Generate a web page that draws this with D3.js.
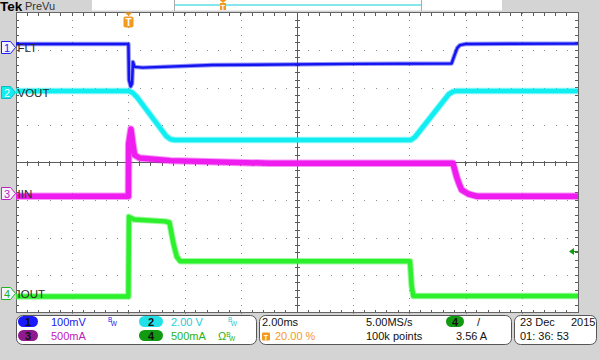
<!DOCTYPE html>
<meta charset="utf-8">
<html>
<head>
<style>
body { margin: 0; background: #d4d4d4; }
svg { display: block; font-family: "Liberation Sans", Arial, sans-serif; }
</style>
</head>
<body>
<div id="scope"></div>
<script src="https://d3js.org/d3.v7.min.js"></script>
<script>

// time in ms (trigger at 0), levels in screen divisions above the centre line
var fltTime = [-4, 0, 0.02, 0.08, 0.13, 0.16, 0.22, 0.5, 3, 8, 11.5, 11.6, 11.7, 11.8, 12.0, 16]
var fltDiv  = [3.16, 3.16, 2.2, 2.03, 2.1, 2.68, 2.55, 2.53, 2.6, 2.63, 2.64, 2.85, 3.05, 3.13, 3.16, 3.17]

var voutTime = [-4, 0, 0.15, 0.3, 1.35, 1.5, 1.65, 10.05, 10.2, 11.4, 11.55, 11.7, 16]
var voutDiv  = [1.91, 1.91, 1.86, 1.75, 0.7, 0.62, 0.6, 0.6, 0.68, 1.82, 1.89, 1.91, 1.91]

var iinTime = [-4, 0, 0.01, 0.09, 0.16, 0.22, 0.4, 1.5, 5, 11.55, 11.68, 11.77, 11.86, 12.1, 12.4, 16]
var iinDiv  = [-0.9, -0.9, 0.5, 0.89, 0.5, 0.2, 0.12, 0.05, -0.02, -0.02, -0.38, -0.57, -0.73, -0.84, -0.9, -0.9]

var ioutTime = [-4, 0, 0.02, 0.2, 1.3, 1.46, 1.6, 1.72, 1.84, 2.2, 10.02, 10.08, 10.14, 16]
var ioutDiv  = [-3.57, -3.57, -1.45, -1.52, -1.57, -1.6, -2.15, -2.51, -2.63, -2.63, -2.63, -3.3, -3.56, -3.56]

var chNames   = ["FLT", "VOUT", "IIN", "IOUT"]
var chNums    = ["1", "2", "3", "4"]
var chMarkers = [3.08, 1.87, -0.81, -3.49]
var chScales  = ["100mV", "2.00 V", "500mA", "500mA"]
var chColors  = ["#1414f0", "#10eef2", "#ee1cee", "#2cf02c"]
var chText    = ["#2020f0", "#22ccd8", "#c020c0", "#22b422"]
var chPill    = ["#1a1aff", "#22e0e8", "#8e1a8e", "#129a12"]

var timeBase   = "2.00ms"
var trigPos    = "20.00 %"
var sampleRate = "5.00MS/s"
var recLength  = "100k points"
var trigLevel  = "3.56 A"
var trigLevelDiv = -2.35
var dateText   = ["23 Dec", "2015", "01: 36: 53"]

var x = d3.scaleLinear().domain([-4, 16]).range([16, 578])
var y = d3.scaleLinear().domain([-4, 4]).range([312.5, 12.5])

var svg = d3.select("#scope").append("svg")
    .attr("width", 600)
    .attr("height", 360)

svg.append("rect").attr("width", 600).attr("height", 360).attr("fill", "#d4d4d4")

// top bar
svg.append("text").attr("x", 0).attr("y", 11)
   .style("font-size", "13.5px").style("font-weight", "bold").attr("fill", "#000")
   .text("Tek")
svg.append("text").attr("x", 25).attr("y", 10)
   .style("font-size", "11px").attr("fill", "#333")
   .text("PreVu")
svg.append("rect").attr("x", 92).attr("y", 0).attr("width", 410).attr("height", 10.5).attr("fill", "#fff")
svg.append("line").attr("x1", 174.5).attr("x2", 174.5).attr("y1", 0).attr("y2", 11).attr("stroke", "#aaa")
svg.append("line").attr("x1", 421.5).attr("x2", 421.5).attr("y1", 0).attr("y2", 11).attr("stroke", "#aaa")
svg.append("rect").attr("x", 175).attr("y", 4).attr("width", 246).attr("height", 2).attr("fill", "#86e6ec")
svg.append("path").attr("d", "M219.5,0 H226.5 L223,3 Z").attr("fill", "#f29a1f")
svg.append("rect").attr("x", 220).attr("y", 3).attr("width", 6).attr("height", 7).attr("fill", "#f29a1f")
svg.append("text").attr("x", 223).attr("y", 9.5).attr("text-anchor", "middle")
   .style("font-size", "7px").style("font-weight", "bold").attr("fill", "#fff").text("T")

// graticule
var plot = svg.append("g")
plot.append("rect").attr("x", 16).attr("y", 12.5).attr("width", 562).attr("height", 300).attr("fill", "#fff")

var majorX = d3.range(-4, 16.001, 2)
var majorY = d3.range(-4, 4.001, 1)
var minorX = d3.range(-4, 16.001, 0.4)
var minorY = d3.range(-4, 4.001, 0.2)

var dots = plot.append("g").attr("fill", "#8a8a8a")
majorX.slice(1, -1).filter(function(t) { return t !== 6 }).forEach(function(t) {
  dots.selectAll(null).data(minorY).enter().append("rect")
    .attr("x", Math.round(x(t))).attr("y", function(d) { return Math.round(y(d)) })
    .attr("width", 1).attr("height", 1)
})
majorY.slice(1, -1).filter(function(v) { return v !== 0 }).forEach(function(v) {
  dots.selectAll(null).data(minorX).enter().append("rect")
    .attr("x", function(d) { return Math.round(x(d)) }).attr("y", Math.round(y(v)))
    .attr("width", 1).attr("height", 1)
})

var ax = plot.append("g").attr("stroke", "#5a5a5a").attr("shape-rendering", "crispEdges")
ax.append("line").attr("x1", x(-4)).attr("x2", x(16)).attr("y1", y(0)).attr("y2", y(0))
ax.append("line").attr("x1", x(6)).attr("x2", x(6)).attr("y1", y(-4)).attr("y2", y(4))
ax.selectAll(".tx").data(minorX).enter().append("line")
  .attr("x1", function(d) { return x(d) }).attr("x2", function(d) { return x(d) })
  .attr("y1", y(0) - 2).attr("y2", y(0) + 3)
ax.selectAll(".ty").data(minorY).enter().append("line")
  .attr("x1", x(6) - 2).attr("x2", x(6) + 3)
  .attr("y1", function(d) { return y(d) }).attr("y2", function(d) { return y(d) })
// border ticks
ax.selectAll(".bt").data(minorX).enter().append("line")
  .attr("x1", function(d) { return x(d) }).attr("x2", function(d) { return x(d) })
  .attr("y1", y(4)).attr("y2", y(4) + 3)
ax.selectAll(".bb").data(minorX).enter().append("line")
  .attr("x1", function(d) { return x(d) }).attr("x2", function(d) { return x(d) })
  .attr("y1", y(-4)).attr("y2", y(-4) - 3)
ax.selectAll(".bl").data(minorY).enter().append("line")
  .attr("x1", x(-4)).attr("x2", x(-4) + 3)
  .attr("y1", function(d) { return y(d) }).attr("y2", function(d) { return y(d) })
ax.selectAll(".br").data(minorY).enter().append("line")
  .attr("x1", x(16)).attr("x2", x(16) - 3)
  .attr("y1", function(d) { return y(d) }).attr("y2", function(d) { return y(d) })
plot.append("rect").attr("x", 16).attr("y", 12.5).attr("width", 562).attr("height", 300)
  .attr("fill", "none").attr("stroke", "#666").attr("shape-rendering", "crispEdges")

// traces
var traces = [
  {t: fltTime, v: fltDiv},
  {t: voutTime, v: voutDiv},
  {t: iinTime, v: iinDiv},
  {t: ioutTime, v: ioutDiv}
]
var widths = [2.5, 4.5, 5.5, 4.5]
var line = d3.line().x(function(d) { return x(d[0]) }).y(function(d) { return y(d[1]) })

traces.forEach(function(tr, i) {
  var pts = tr.t.map(function(t, k) { return [t, tr.v[k]] })
  svg.append("path").datum(pts).attr("d", line)
     .attr("fill", "none").attr("stroke", chColors[i]).attr("stroke-opacity", 0.45)
     .attr("stroke-width", widths[i] + 2).attr("stroke-linejoin", "round")
  svg.append("path").datum(pts).attr("d", line)
     .attr("fill", "none").attr("stroke", chColors[i])
     .attr("stroke-width", widths[i]).attr("stroke-linejoin", "round")
})

// channel markers and labels
chMarkers.forEach(function(m, i) {
  var yc = Math.round(y(m)) + 0.5
  var g = svg.append("g")
  g.append("path")
    .attr("d", "M1.5," + (yc - 6) + " H10.5 L15.5," + yc + " L10.5," + (yc + 6) + " H1.5 Z")
    .attr("fill", i === 1 ? chColors[1] : "#f4f4ff")
    .attr("stroke", i === 1 ? "#10b8c0" : chText[i])
  g.append("text").attr("x", 7).attr("y", yc + 4).attr("text-anchor", "middle")
    .style("font-size", "11px").attr("fill", i === 1 ? "#fff" : chText[i]).text(chNums[i])
  g.append("text").attr("x", 17.5).attr("y", yc + 4)
    .style("font-size", "11.5px").attr("fill", "#2a2a2a").text(chNames[i])
})

// trigger position marker
var tx = Math.round(x(0)) + 0.5
svg.append("path").attr("d", "M" + (tx - 4) + ",12.5 H" + (tx + 4) + " L" + tx + ",16 Z").attr("fill", "#f29a1f")
svg.append("rect").attr("x", tx - 5).attr("y", 16.5).attr("width", 10).attr("height", 11).attr("rx", 2).attr("fill", "#f29a1f")
svg.append("text").attr("x", tx).attr("y", 25.5).attr("text-anchor", "middle")
   .style("font-size", "10px").style("font-weight", "bold").attr("fill", "#fff").text("T")

// trigger level marker
var ty = Math.round(y(trigLevelDiv)) + 0.5
svg.append("path").attr("d", "M569," + ty + " L574," + (ty - 3.5) + " L574," + (ty + 3.5) + " Z").attr("fill", "#129a12")
svg.append("line").attr("x1", 573).attr("x2", 578).attr("y1", ty).attr("y2", ty).attr("stroke", "#129a12")

// status bar
var sb = svg.append("g").style("font-size", "11px")
sb.append("rect").attr("x", 16.5).attr("y", 315.5).attr("width", 240).attr("height", 29).attr("rx", 6)
  .attr("fill", "#fff").attr("stroke", "#555")
sb.append("rect").attr("x", 259.5).attr("y", 315.5).attr("width", 252).attr("height", 29).attr("rx", 6)
  .attr("fill", "#fff").attr("stroke", "#555")
sb.append("rect").attr("x", 514.5).attr("y", 315.5).attr("width", 82).attr("height", 29).attr("rx", 6)
  .attr("fill", "#fff").attr("stroke", "#555")

function pill(cx, cy, w, color, label) {
  sb.append("rect").attr("x", cx - w / 2).attr("y", cy - 5.5).attr("width", w).attr("height", 11)
    .attr("rx", 5.5).attr("fill", color)
  sb.append("text").attr("x", cx).attr("y", cy + 4).attr("text-anchor", "middle")
    .style("font-weight", "bold").attr("fill", "#111").text(label)
}
// bandwidth-limit glyph: small B over a lowered W, one text node
function bw(x0, y0, color, prefix) {
  var t = sb.append("text").attr("x", x0).attr("y", y0).attr("fill", color)
  if (prefix) t.append("tspan").style("font-size", "11px").text(prefix)
  t.append("tspan").attr("dy", -3).style("font-size", "6.5px").text("B")
  t.append("tspan").attr("dx", -1.5).attr("dy", 4).style("font-size", "6.5px").text("W")
}

var rowY = [326, 340]
chNums.forEach(function(n, i) {
  var left = i === 0 || i === 2
  var row = i < 2 ? 0 : 1
  pill(left ? 28 : 151, rowY[row] - 4.5, left ? 20 : 24, chPill[i], n)
  sb.append("text").attr("x", left ? 51 : 171).attr("y", rowY[row])
    .attr("fill", chText[i]).text(chScales[i])
})
bw(108, 325, chText[0])
bw(228, 325, chText[1])
bw(218, 340, chText[3], "Ω")

sb.append("text").attr("x", 262).attr("y", 326).attr("fill", "#111").text(timeBase)
sb.append("rect").attr("x", 262).attr("y", 332.5).attr("width", 8).attr("height", 8).attr("rx", 1).attr("fill", "#f29a1f")
sb.append("text").attr("x", 266).attr("y", 339.5).attr("text-anchor", "middle")
  .style("font-size", "7px").style("font-weight", "bold").attr("fill", "#fff").text("T")
sb.append("text").attr("x", 275).attr("y", 340).attr("fill", "#f29a1f").text(trigPos)
sb.append("text").attr("x", 366).attr("y", 326).attr("fill", "#111").text(sampleRate)
sb.append("text").attr("x", 366).attr("y", 340).attr("fill", "#111").text(recLength)
pill(455, 321.5, 18, chPill[3], chNums[3])
sb.append("text").attr("x", 477).attr("y", 326).attr("fill", "#111").text("/")
sb.append("text").attr("x", 456).attr("y", 340).attr("fill", "#111").text(trigLevel)

sb.append("text").attr("x", 520).attr("y", 326).attr("fill", "#111").text(dateText[0])
sb.append("text").attr("x", 571).attr("y", 326).attr("fill", "#111").text(dateText[1])
sb.append("text").attr("x", 520).attr("y", 340).attr("fill", "#111").text(dateText[2])

</script>
</body>
</html>
